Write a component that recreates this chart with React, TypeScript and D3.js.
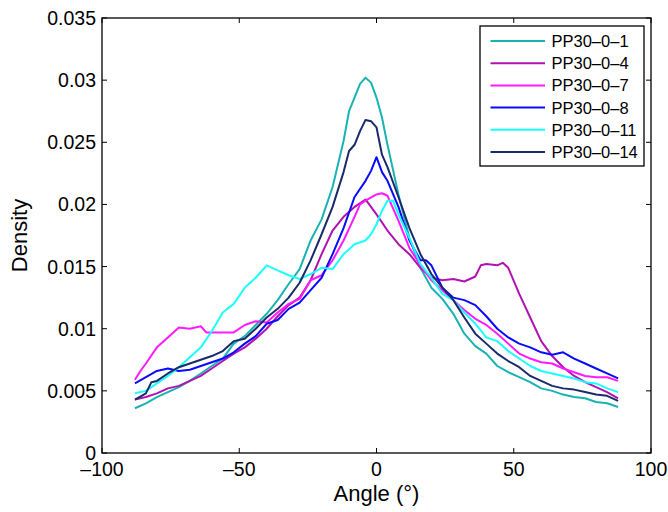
import React from "react";
import * as d3 from "d3";

const X_TICKS = [-100, -50, 0, 50, 100];
const Y_TICKS = [0, 0.005, 0.01, 0.015, 0.02, 0.025, 0.03, 0.035];
const SERIES_NAMES = ["PP30\u20130\u20131", "PP30\u20130\u20134", "PP30\u20130\u20137", "PP30\u20130\u20138", "PP30\u20130\u201311", "PP30\u20130\u201314"];
const SERIES_COLORS = ["#1ab3b3", "#b312b3", "#ff1aff", "#0a0aff", "#1affff", "#1a2b6b"];

const ANG_1 = [-88,-84,-80,-76,-72,-68,-64,-60,-56,-52,-48,-44,-40,-36,-32,-28,-24,-20,-16,-12,-10,-8,-6,-4,-2,0,2,4,8,12,16,20,24,28,32,36,40,44,48,52,56,60,64,68,72,76,80,84,88];
const VAL_1 = [0.0036,0.0040,0.0045,0.0049,0.0053,0.0058,0.0064,0.0070,0.0076,0.0088,0.0094,0.0103,0.0112,0.0123,0.0136,0.0148,0.0171,0.0188,0.0214,0.0251,0.0275,0.0286,0.0297,0.0302,0.0298,0.0286,0.0270,0.0248,0.0208,0.0173,0.0149,0.0133,0.0124,0.0112,0.0096,0.0086,0.0080,0.0070,0.0065,0.0061,0.0057,0.0052,0.0050,0.0047,0.0045,0.0044,0.0041,0.0040,0.0037];

const ANG_4 = [-88,-84,-80,-76,-72,-68,-64,-60,-56,-52,-48,-44,-40,-36,-32,-28,-24,-20,-16,-12,-8,-4,0,4,8,12,16,20,24,28,32,36,38,40,44,46,48,52,56,60,64,68,72,76,80,84,88];
const VAL_4 = [0.0043,0.0045,0.0048,0.0052,0.0054,0.0058,0.0062,0.0068,0.0074,0.0080,0.0085,0.0092,0.0100,0.0110,0.0119,0.0125,0.0139,0.0160,0.0179,0.0190,0.0198,0.0204,0.0192,0.0179,0.0168,0.0160,0.0149,0.0141,0.0139,0.0140,0.0138,0.0142,0.0151,0.0152,0.0151,0.0153,0.0149,0.0128,0.0109,0.0090,0.0078,0.0069,0.0062,0.0057,0.0053,0.0049,0.0044];

const ANG_7 = [-88,-86,-84,-80,-76,-72,-68,-64,-62,-56,-52,-48,-44,-40,-36,-32,-28,-24,-20,-16,-12,-8,-6,-4,0,2,4,8,12,16,20,24,28,32,36,40,44,48,52,56,60,64,68,72,76,80,84,88];
const VAL_7 = [0.0059,0.0066,0.0072,0.0085,0.0093,0.0101,0.0100,0.0102,0.0097,0.0097,0.0097,0.0103,0.0106,0.0105,0.0113,0.0120,0.0124,0.0139,0.0143,0.0155,0.0171,0.0190,0.0200,0.0203,0.0208,0.0209,0.0207,0.0187,0.0165,0.0151,0.0139,0.0131,0.0123,0.0115,0.0108,0.0103,0.0096,0.0088,0.0080,0.0076,0.0073,0.0072,0.0068,0.0065,0.0062,0.0061,0.0061,0.0058];

const ANG_8 = [-88,-84,-80,-76,-72,-68,-64,-60,-56,-52,-48,-44,-40,-36,-32,-28,-24,-20,-16,-12,-8,-4,-2,0,2,4,8,12,16,18,20,24,28,32,36,40,44,48,52,56,60,64,68,72,76,80,84,88];
const VAL_8 = [0.0056,0.0061,0.0066,0.0068,0.0066,0.0067,0.0070,0.0073,0.0076,0.0081,0.0088,0.0094,0.0104,0.0107,0.0116,0.0121,0.0131,0.0141,0.0160,0.0181,0.0206,0.0219,0.0227,0.0238,0.0226,0.0219,0.0198,0.0171,0.0155,0.0155,0.0151,0.0133,0.0125,0.0123,0.0119,0.0110,0.0100,0.0093,0.0088,0.0085,0.0081,0.0079,0.0081,0.0076,0.0072,0.0068,0.0064,0.0060];

const ANG_11 = [-88,-84,-80,-76,-72,-68,-64,-60,-56,-52,-48,-44,-40,-36,-32,-28,-24,-20,-16,-12,-8,-4,-2,0,2,4,6,8,12,16,20,24,28,32,36,40,44,48,52,56,60,64,68,72,76,80,84,88];
const VAL_11 = [0.0048,0.0050,0.0056,0.0062,0.0069,0.0077,0.0085,0.0098,0.0113,0.0120,0.0133,0.0141,0.0151,0.0147,0.0143,0.0140,0.0144,0.0149,0.0148,0.0160,0.0168,0.0171,0.0176,0.0184,0.0195,0.0203,0.0203,0.0192,0.0173,0.0152,0.0141,0.0128,0.0123,0.0113,0.0104,0.0093,0.0090,0.0082,0.0076,0.0070,0.0066,0.0064,0.0062,0.0060,0.0057,0.0056,0.0052,0.0049];

const ANG_14 = [-88,-84,-82,-80,-76,-72,-68,-64,-60,-56,-52,-48,-44,-40,-36,-32,-28,-24,-20,-16,-12,-10,-8,-6,-4,-2,0,2,4,8,12,16,20,24,28,32,36,40,44,48,52,56,60,64,68,72,76,80,84,88];
const VAL_14 = [0.0043,0.0048,0.0057,0.0058,0.0064,0.0069,0.0072,0.0075,0.0078,0.0082,0.0090,0.0092,0.0100,0.0109,0.0116,0.0125,0.0137,0.0155,0.0176,0.0198,0.0226,0.0243,0.0248,0.0259,0.0268,0.0267,0.0262,0.0240,0.0230,0.0206,0.0181,0.0160,0.0144,0.0133,0.0123,0.0109,0.0096,0.0088,0.0080,0.0074,0.0069,0.0062,0.0058,0.0054,0.0052,0.0051,0.0049,0.0047,0.0046,0.0042];

const SERIES_ANGLES = [ANG_1, ANG_4, ANG_7, ANG_8, ANG_11, ANG_14];
const SERIES_VALUES = [VAL_1, VAL_4, VAL_7, VAL_8, VAL_11, VAL_14];

const W = 668;
const H = 512;
const M = { left: 102, right: 651, top: 18, bottom: 453 };
const FONT = "'Liberation Sans', Arial, Helvetica, sans-serif";

export default function App() {
  const x = d3.scaleLinear().domain([-100, 100]).range([M.left, M.right]);
  const y = d3.scaleLinear().domain([0, 0.035]).range([M.bottom, M.top]);
  const line = d3
    .line<[number, number]>()
    .x((d) => x(d[0]))
    .y((d) => y(d[1]));

  const fmtY = (v: number) => (v === 0 ? "0" : String(+v.toFixed(3)));
  const fmtX = (v: number) => (v < 0 ? "\u2013" + Math.abs(v) : String(v));
  const tl = 5;

  const legX = 480;
  const legY = 26;
  const legW = 164;
  const legH = 140;

  return (
    <svg width={W} height={H} style={{ position: "absolute", left: 0, top: 0, background: "#fff" }} fontFamily={FONT}>
      <rect x={0} y={0} width={W} height={H} fill="#fff" />
      {SERIES_NAMES.map((name, i) => {
        const pts = SERIES_ANGLES[i].map((a, j) => [a, SERIES_VALUES[i][j]] as [number, number]);
        return (
          <path key={name} d={line(pts) || ""} fill="none" stroke={SERIES_COLORS[i]} strokeWidth={2} strokeLinejoin="round" />
        );
      })}
      {/* axes box */}
      <rect x={M.left} y={M.top} width={M.right - M.left} height={M.bottom - M.top} fill="none" stroke="#000" strokeWidth={1.3} />
      {X_TICKS.map((t) => (
        <g key={"x" + t}>
          <line x1={x(t)} x2={x(t)} y1={M.bottom} y2={M.bottom - tl} stroke="#000" strokeWidth={1} />
          <line x1={x(t)} x2={x(t)} y1={M.top} y2={M.top + tl} stroke="#000" strokeWidth={1} />
          <text x={x(t)} y={476} textAnchor="middle" fontSize={19.5} fill="#000">
            {fmtX(t)}
          </text>
        </g>
      ))}
      {Y_TICKS.map((t) => (
        <g key={"y" + t}>
          <line x1={M.left} x2={M.left + tl} y1={y(t)} y2={y(t)} stroke="#000" strokeWidth={1} />
          <line x1={M.right} x2={M.right - tl} y1={y(t)} y2={y(t)} stroke="#000" strokeWidth={1} />
          <text x={96} y={y(t) + 7} textAnchor="end" fontSize={19.5} fill="#000">
            {fmtY(t)}
          </text>
        </g>
      ))}
      <text x={(M.left + M.right) / 2} y={501} textAnchor="middle" fontSize={22} fill="#000">
        Angle (°)
      </text>
      <text transform={`translate(27, ${(M.top + M.bottom) / 2}) rotate(-90)`} textAnchor="middle" fontSize={22} fill="#000">
        Density
      </text>
      {/* legend */}
      <rect x={legX} y={legY} width={legW} height={legH} fill="#fff" stroke="#000" strokeWidth={1.3} />
      {SERIES_NAMES.map((name, i) => {
        const ry = 41 + i * 22.2;
        return (
          <g key={"leg" + name}>
            <line x1={490.5} x2={545} y1={ry} y2={ry} stroke={SERIES_COLORS[i]} strokeWidth={2} />
            <text x={551.5} y={ry + 6} fontSize={16.5} fill="#000">
              {name}
            </text>
          </g>
        );
      })}
    </svg>
  );
}
